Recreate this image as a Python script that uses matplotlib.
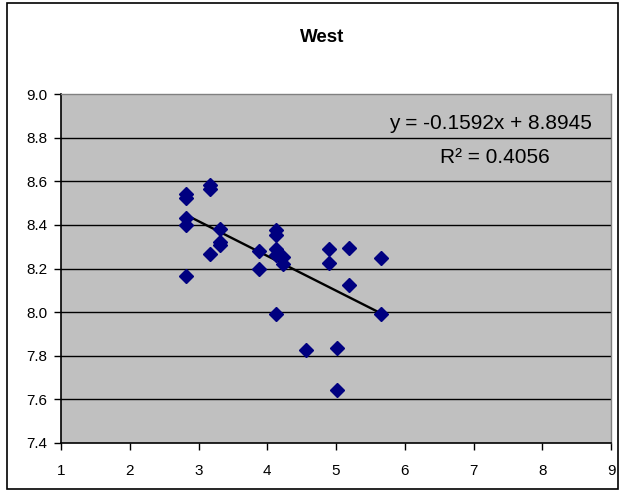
import matplotlib
matplotlib.use('Agg')
import matplotlib.pyplot as plt
import numpy as np
from matplotlib.patches import Rectangle

plt.rcParams['font.family'] = ['Liberation Sans', 'DejaVu Sans']

title = 'West'
x_vals = [2.82, 2.82, 2.82, 2.82, 2.82, 3.16, 3.16, 3.16, 3.31, 3.31, 3.31,
          3.88, 3.88, 4.13, 4.13, 4.13, 4.13, 4.13, 4.23, 4.23, 4.57,
          4.90, 4.90, 5.01, 5.01, 5.19, 5.19, 5.65, 5.65]
y_vals = [8.54, 8.525, 8.43, 8.40, 8.165, 8.585, 8.565, 8.265, 8.38, 8.32, 8.31,
          8.28, 8.20, 8.375, 8.355, 8.29, 8.26, 7.99, 8.255, 8.22, 7.825,
          8.29, 8.225, 7.835, 7.645, 8.295, 8.125, 8.25, 7.99]
slope = -0.1592
intercept = 8.8945
r_squared = 0.4056
x_ticks = [1, 2, 3, 4, 5, 6, 7, 8, 9]
y_ticks = [7.4, 7.6, 7.8, 8.0, 8.2, 8.4, 8.6, 8.8, 9.0]

fig = plt.figure(figsize=(6.2, 4.92), dpi=100)
ax = fig.add_axes([61 / 620, 1 - 443 / 492, 550 / 620, 349 / 492])
ax.set_facecolor('#C0C0C0')

# outer chart border
fig.patches.append(Rectangle((7 / 620, 3 / 492), 611 / 620, 486 / 492,
                             transform=fig.transFigure, fill=False,
                             edgecolor='black', linewidth=1.2))

x = np.array(x_vals)
y = np.array(y_vals)

for t in y_ticks[1:-1]:
    ax.axhline(t, color='black', linewidth=1.0, zorder=1)

xs = np.array([x.min(), x.max()])
ax.plot(xs, slope * xs + intercept, color='black', linewidth=1.7, zorder=2)
ax.plot(x, y, linestyle='none', marker='D', markersize=6.8,
        color='#000080', zorder=3)

ax.set_xlim(1, 9)
ax.set_ylim(7.4, 9.0)
ax.set_xticks(x_ticks)
ax.set_yticks(y_ticks)
ax.set_xticklabels([str(v) for v in x_ticks])
ax.set_yticklabels([f'{v:.1f}' for v in y_ticks])
ax.tick_params(axis='both', labelsize=11, length=5, width=1, direction='out',
               colors='black')
ax.tick_params(axis='x', pad=10)
ax.tick_params(axis='y', pad=5)

for side in ['top', 'right']:
    ax.spines[side].set_color('#808080')
    ax.spines[side].set_linewidth(1)
for side in ['left', 'bottom']:
    ax.spines[side].set_color('black')
    ax.spines[side].set_linewidth(1.2)

ax.text(7.24, 8.867, f'y = {slope:.4f}x + {intercept:.4f}', ha='center',
        va='center', fontsize=15)
ax.text(7.31, 8.711, f'R² = {r_squared:.4f}', ha='center', va='center',
        fontsize=15)

fig.text(322 / 620, 1 - 38 / 492, title, ha='center', va='center',
         fontsize=13.5, fontweight='bold')

fig.savefig('out.png', dpi=100)
